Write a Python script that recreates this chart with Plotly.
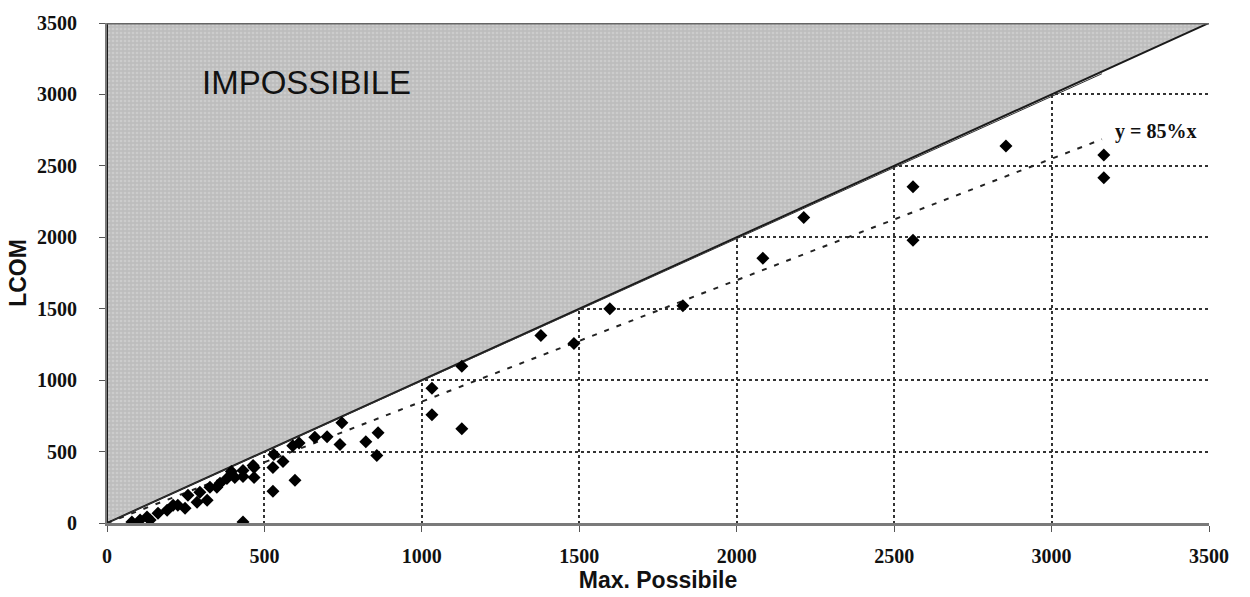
import plotly.graph_objects as go

# ---- data ----
max_possibile = [2855, 3166, 3166, 2560, 2560, 2213, 2083, 1829, 1597, 1378, 1483, 1127, 1032, 1032,
                 1127, 746, 699, 740, 861, 822, 857, 559, 527, 467, 467, 597, 527, 432, 406, 432,
                 530, 464, 432, 381, 349, 318, 286, 248, 210, 257, 295, 327, 359, 137, 105, 79,
                 162, 191, 225, 127, 395, 610, 590, 660]
lcom = [2639, 2576, 2417, 2354, 1979, 2139, 1854, 1521, 1500, 1313, 1257, 1097, 944, 757,
        660, 701, 604, 549, 632, 569, 472, 431, 389, 389, 319, 299, 222, 326, 319, 7,
        480, 403, 368, 312, 250, 160, 146, 104, 125, 194, 215, 250, 278, 21, 21, 7,
        69, 90, 125, 42, 360, 560, 540, 600]

axis_max = 3500
ticks = [0, 500, 1000, 1500, 2000, 2500, 3000, 3500]
trend_slope = 0.85
trend_end = 3160
max_line_end = [3160, 3145]

fig = go.Figure()

# impossible region (above y = x)
fig.add_trace(go.Scatter(
    x=[0, 0, axis_max, 0], y=[0, axis_max, axis_max, 0],
    mode="lines", fill="toself", fillcolor="#bdbdbd",
    fillpattern=dict(shape=".", bgcolor="#bdbdbd", fgcolor="#dcdcdc", size=4, solidity=0.35),
    line=dict(color="#1a1a1a", width=2), hoverinfo="skip", showlegend=False))

# second near-identity line
fig.add_trace(go.Scatter(
    x=[0, max_line_end[0]], y=[0, max_line_end[1]], mode="lines",
    line=dict(color="#333333", width=1), hoverinfo="skip", showlegend=False))

# 85% trend line
fig.add_trace(go.Scatter(
    x=[0, trend_end], y=[0, trend_slope * trend_end], mode="lines",
    line=dict(color="#222222", width=2, dash="5px,8px"), hoverinfo="skip", showlegend=False))

# data points
fig.add_trace(go.Scatter(
    x=max_possibile, y=lcom, mode="markers",
    marker=dict(symbol="diamond", color="black", size=10), showlegend=False))

tickfont = dict(family="Liberation Serif", size=20, color="#111111", weight="bold")
titlefont = dict(family="Liberation Sans", size=23, color="#111111", weight="bold")

fig.update_xaxes(range=[0, axis_max], tickvals=ticks, showgrid=True, gridcolor="#333333",
                 griddash="dot", gridwidth=2, zeroline=False, showline=True,
                 linecolor="#7a7a7a", linewidth=3, ticks="outside", ticklen=6,
                 tickcolor="#555555", tickfont=tickfont, ticklabelstandoff=7,
                 title=dict(text="Max. Possibile", font=titlefont, standoff=0))
fig.update_yaxes(range=[0, axis_max], tickvals=ticks, showgrid=True, gridcolor="#333333",
                 griddash="dot", gridwidth=2, zeroline=False, showline=True,
                 linecolor="#7a7a7a", linewidth=2, ticks="outside", ticklen=6,
                 tickcolor="#555555", tickfont=tickfont, ticklabelstandoff=18,
                 title=dict(text="LCOM", font=titlefont, standoff=4))

# top border
fig.add_shape(type="line", x0=0, x1=axis_max, y0=axis_max, y1=axis_max,
              line=dict(color="#666666", width=3), layer="above")

fig.add_annotation(x=295, y=3083, text="IMPOSSIBILE", showarrow=False, xanchor="left",
                   font=dict(family="Liberation Sans", size=33, color="#111111"))
fig.add_annotation(x=3195, y=2743, text="y = 85%x", showarrow=False, xanchor="left",
                   font=dict(family="Liberation Serif", size=20, color="#111111", weight="bold"))

fig.update_layout(width=1250, height=597, margin=dict(l=107, r=41, t=19, b=74),
                  paper_bgcolor="white", plot_bgcolor="white")

fig.write_html("out.html")
